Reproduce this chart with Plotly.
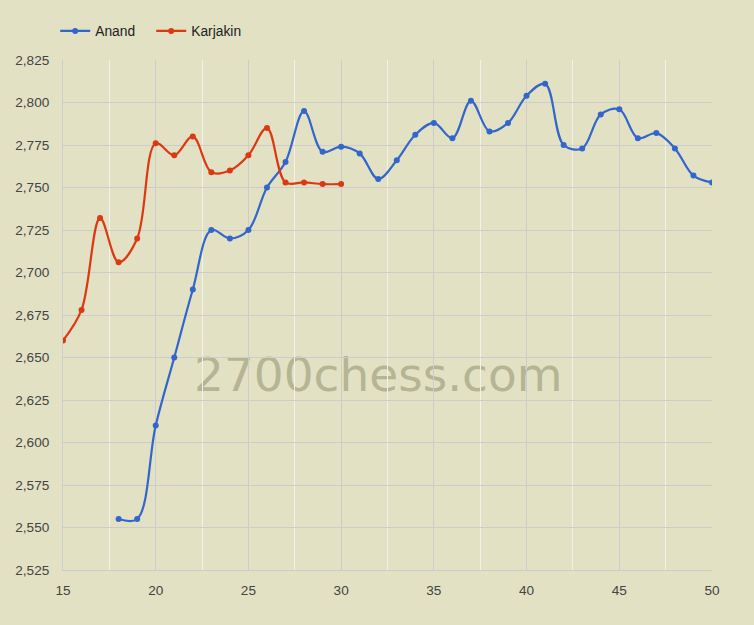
import plotly.graph_objects as go

anand_x = list(range(18, 51))
anand_y = [2555, 2555, 2610, 2650, 2690, 2725, 2720, 2725, 2750, 2765, 2795,
           2771, 2774, 2770, 2755, 2766, 2781, 2788, 2779, 2801, 2783, 2788,
           2804, 2811, 2775, 2773, 2793, 2796, 2779, 2782, 2773, 2757, 2753]
karjakin_x = list(range(15, 31))
karjakin_y = [2660, 2678, 2732, 2706, 2720, 2776, 2769, 2780, 2759, 2760,
              2769, 2785, 2753, 2753, 2752, 2752]

BG = "#E2E1C4"
GRID = "#CCCCCC"

fig = go.Figure()
fig.add_trace(go.Scatter(x=anand_x, y=anand_y, name="Anand", mode="lines+markers",
                         line=dict(color="#3366CC", width=2.2, shape="spline", smoothing=1),
                         marker=dict(size=6, color="#3366CC")))
fig.add_trace(go.Scatter(x=karjakin_x, y=karjakin_y, name="Karjakin", mode="lines+markers",
                         line=dict(color="#DC3912", width=2.2, shape="spline", smoothing=1),
                         marker=dict(size=6, color="#DC3912")))

fig.add_shape(type="rect", xref="x", yref="y", x0=31, x1=33, y0=2633, y1=2650,
              line=dict(width=0), fillcolor="rgba(0,0,0,0)", layer="below",
              label=dict(text="2700chess.com", textposition="middle center",
                         font=dict(family="DejaVu Sans", size=47, color="#B5B493")))

fig.update_layout(
    width=754, height=625,
    margin=dict(l=63, r=42, t=60, b=55),
    paper_bgcolor=BG, plot_bgcolor=BG,
    font=dict(family="Liberation Sans", size=13.6, color="#444444"),
    showlegend=True,
    legend=dict(orientation="h", x=-0.012, xanchor="left", y=1.057, yanchor="middle",
                entrywidth=51, bgcolor="rgba(0,0,0,0)",
                font=dict(size=13.8, color="#222222")),
    xaxis=dict(range=[15, 50], dtick=5, tick0=15, showgrid=True, gridcolor=GRID,
               gridwidth=1, zeroline=False, showline=True, linecolor=GRID,
               ticks="", ticklabelstandoff=8,
               minor=dict(dtick=2.5, tick0=15, showgrid=True, gridcolor="#F2F2EA", gridwidth=1)),
    yaxis=dict(range=[2525, 2825], dtick=25, tick0=2525, showgrid=True, gridcolor=GRID,
               gridwidth=1, zeroline=False, showline=True, linecolor=GRID,
               tickformat=",d", ticks="", ticklabelstandoff=10),
)

fig.write_html("out.html", config={"displayModeBar": False},
               post_script="document.body.style.margin='0px';document.body.style.background='%s';" % BG)
